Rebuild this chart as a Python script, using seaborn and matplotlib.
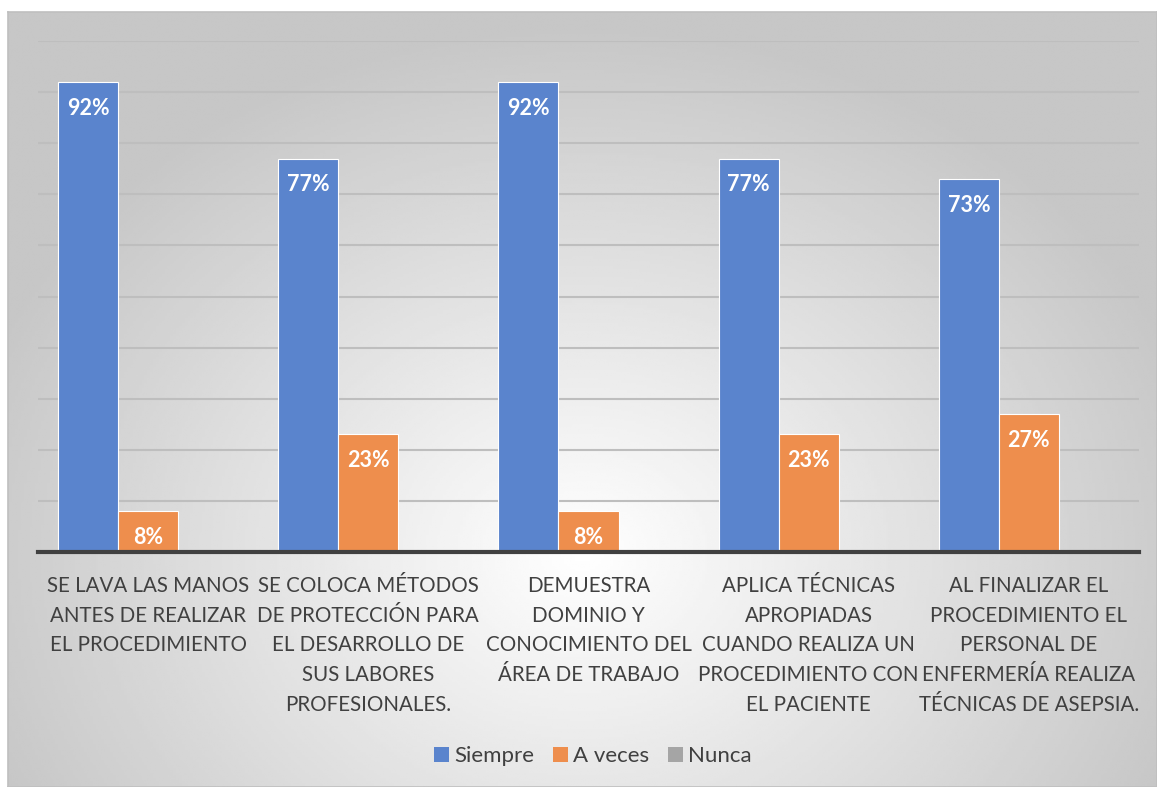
import numpy as np
import pandas as pd
import seaborn as sns
import matplotlib.pyplot as plt
from matplotlib.patches import Patch

sns.set_theme(style="white")
plt.rcParams['font.family'] = ['Lato', 'DejaVu Sans']

# datos
categorias = [
    "SE LAVA LAS MANOS\nANTES DE REALIZAR\nEL PROCEDIMIENTO",
    "SE COLOCA MÉTODOS\nDE PROTECCIÓN PARA\nEL DESARROLLO DE\nSUS LABORES\nPROFESIONALES.",
    "DEMUESTRA\nDOMINIO Y\nCONOCIMIENTO DEL\nÁREA DE TRABAJO",
    "APLICA TÉCNICAS\nAPROPIADAS\nCUANDO REALIZA UN\nPROCEDIMIENTO CON\nEL PACIENTE",
    "AL FINALIZAR EL\nPROCEDIMIENTO EL\nPERSONAL DE\nENFERMERÍA REALIZA\nTÉCNICAS DE ASEPSIA.",
]
series = ["Siempre", "A veces", "Nunca"]
siempre = [92, 77, 92, 77, 73]
a_veces = [8, 23, 8, 23, 27]
nunca = [0, 0, 0, 0, 0]
colores = ["#5A84CD", "#EE8E4D", "#A5A5A5"]

df = pd.DataFrame({
    "cat": categorias * 3,
    "serie": [s for s in series for _ in categorias],
    "valor": siempre + a_veces + nunca,
})

fig = plt.figure(figsize=(11.57, 7.87), dpi=100)

# fondo con degradado
bg = fig.add_axes([8 / 1157, 0, 1 - 8 / 1157, (787 - 12) / 787], zorder=-1)
yy, xx = np.mgrid[0:1:300j, 0:1:400j]
r = np.sqrt(((xx - 0.5) * 1.1) ** 2 + ((yy - 0.7) * 0.9) ** 2)
grad = np.clip(1 - r * 0.36, 0.78, 1.0)
bg.imshow(grad, cmap="gray", vmin=0, vmax=1, aspect="auto", extent=[0, 1, 0, 1], origin="upper")
bg.set_xticks([])
bg.set_yticks([])
for s in bg.spines.values():
    s.set_color("#BFBFBF")
    s.set_linewidth(1.2)

ax = fig.add_axes([38 / 1157, (787 - 552) / 787, (1139 - 38) / 1157, (552 - 41) / 787])
ax.set_facecolor("none")
sns.barplot(data=df, x="cat", y="valor", hue="serie", palette=colores, saturation=1,
            width=0.818, edgecolor="white", linewidth=0.8, ax=ax, legend=False, zorder=3)

ax.set_ylim(0, 100)
ax.set_xlim(-0.5, 4.5)
ax.set_yticks(range(0, 101, 10))
ax.set_yticklabels([])
ax.yaxis.grid(True, color="#BEBEBE", linewidth=1.5, zorder=0)
ax.set_axisbelow(True)
for s in ["top", "right", "left"]:
    ax.spines[s].set_visible(False)
ax.spines["bottom"].set_color("#404040")
ax.spines["bottom"].set_linewidth(3)
ax.spines["bottom"].set_zorder(5)
ax.tick_params(axis="x", length=0, pad=17)
ax.tick_params(axis="y", length=0)
ax.set_xlabel("")
ax.set_ylabel("")
for t in ax.get_xticklabels():
    t.set_fontsize(14.8)
    t.set_color("#404040")
    t.set_linespacing(1.62)
    t.set_va("top")

# etiquetas de datos
for cont in ax.containers[:2]:
    for p in cont:
        h = p.get_height()
        ax.annotate(f"{h:.0f}%", (p.get_x() + p.get_width() / 2, h),
                    xytext=(0, -19), textcoords="offset points",
                    ha="center", va="center", color="white",
                    fontsize=15.5, fontweight="bold", zorder=6)

handles = [Patch(facecolor=c, edgecolor="none", label=s) for s, c in zip(series, colores)]
fig.legend(handles=handles, loc="center", bbox_to_anchor=(593 / 1157, 1 - 756 / 787),
           ncol=3, frameon=False, fontsize=16, handlelength=0.65, handleheight=0.65,
           handletextpad=0.25, columnspacing=0.85, labelcolor="#404040")

fig.savefig("out.png", dpi=100)
